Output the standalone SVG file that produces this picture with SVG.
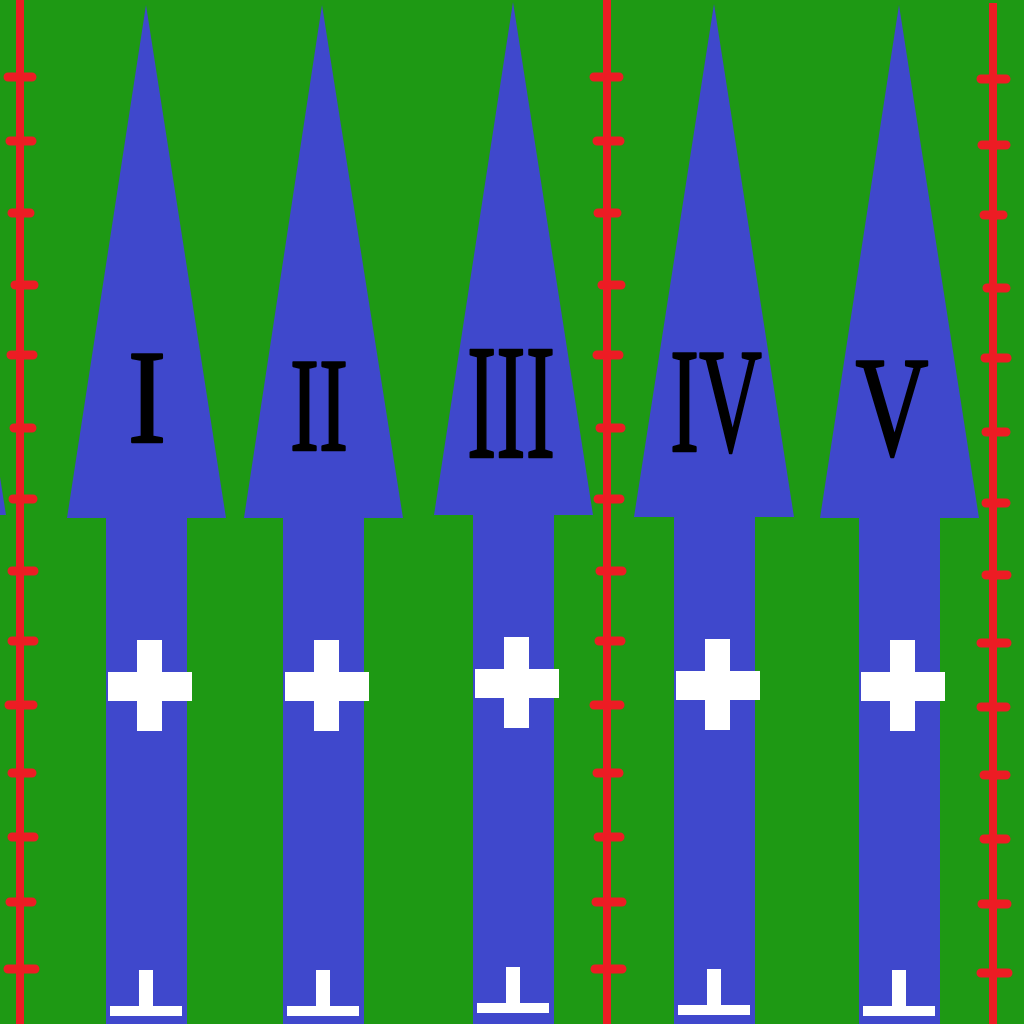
<svg xmlns="http://www.w3.org/2000/svg" width="1024" height="1024" viewBox="0 0 1024 1024">
<style>
.bg{fill:#1E9914}
.blue{fill:#3F48CC}
.white{fill:#FFFFFF}
.rail{fill:#ED1C24}
.tick{stroke:#ED1C24;stroke-width:9;stroke-linecap:round;fill:none}
.num{font-family:"Liberation Serif","Times New Roman",serif;fill:#000000;stroke:#000000;stroke-width:2.5;stroke-linejoin:round;text-anchor:middle}
</style>
<rect class="bg" x="0" y="0" width="1024" height="1024"/>
<polygon class="blue" points="0,477 6,515 0,515"/>

<g id="arrow1">
<polygon class="blue" points="146,5 226,518 187,518 187,1024 106,1024 106,518 67,518"/>
<rect class="white" x="137" y="640" width="25" height="91"/>
<rect class="white" x="108" y="672" width="84" height="29"/>
<rect class="white" x="139" y="970" width="14" height="40"/>
<rect class="white" x="110" y="1006" width="72" height="10"/>
<text class="num" x="147" y="442" font-size="134" textLength="38" lengthAdjust="spacingAndGlyphs">I</text>
</g>

<g id="arrow2">
<polygon class="blue" points="322,5 403,518 364,518 364,1024 283,1024 283,518 244,518"/>
<rect class="white" x="314" y="640" width="25" height="91"/>
<rect class="white" x="285" y="672" width="84" height="29"/>
<rect class="white" x="316" y="970" width="14" height="40"/>
<rect class="white" x="287" y="1006" width="72" height="10"/>
<text class="num" x="319" y="450" font-size="134" textLength="58" lengthAdjust="spacingAndGlyphs">II</text>
</g>

<g id="arrow3">
<polygon class="blue" points="513,2 593,515 554,515 554,1024 473,1024 473,515 434,515"/>
<rect class="white" x="504" y="637" width="25" height="91"/>
<rect class="white" x="475" y="669" width="84" height="29"/>
<rect class="white" x="506" y="967" width="14" height="40"/>
<rect class="white" x="477" y="1003" width="72" height="10"/>
<text class="num" x="511" y="457" font-size="164" textLength="88" lengthAdjust="spacingAndGlyphs">III</text>
</g>

<g id="arrow4">
<polygon class="blue" points="714,4 794,517 755,517 755,1024 674,1024 674,517 634,517"/>
<rect class="white" x="705" y="639" width="25" height="91"/>
<rect class="white" x="676" y="671" width="84" height="29"/>
<rect class="white" x="707" y="969" width="14" height="40"/>
<rect class="white" x="678" y="1005" width="72" height="10"/>
<text class="num" x="716" y="451" font-size="148" textLength="92" lengthAdjust="spacingAndGlyphs">IV</text>
</g>

<g id="arrow5">
<polygon class="blue" points="899,5 979,518 940,518 940,1024 859,1024 859,518 820,518"/>
<rect class="white" x="890" y="640" width="25" height="91"/>
<rect class="white" x="861" y="672" width="84" height="29"/>
<rect class="white" x="892" y="970" width="14" height="40"/>
<rect class="white" x="863" y="1006" width="72" height="10"/>
<text class="num" x="892" y="455" font-size="142" textLength="73" lengthAdjust="spacingAndGlyphs">V</text>
</g>

<g id="rail-left">
<rect class="rail" x="16" y="0" width="8" height="1024"/>
<path class="tick" d="M8,77H32M10,141H32M12,213H30M15,285H34M11,355H33M14,428H32M13,499H33M12,571H34M12,641H34M9,705H33M12,773H32M12,837H34M10,902H32M8,969H35"/>
</g>
<g id="rail-middle">
<rect class="rail" x="603" y="0" width="8" height="1024"/>
<path class="tick" d="M594,77H619M597,141H620M598,213H617M602,285H621M597,355H619M600,428H621M598,499H620M600,571H622M599,641H621M594,705H620M597,773H619M598,837H620M596,902H622M595,969H622"/>
</g>
<g id="rail-right">
<rect class="rail" x="989" y="3" width="8" height="1021"/>
<path class="tick" d="M981,79H1006M982,145H1006M984,215H1003M987,288H1006M985,358H1007M986,432H1006M986,503H1006M986,575H1007M981,643H1007M981,707H1006M984,775H1006M984,839H1006M982,904H1007M981,973H1008"/>
</g>
</svg>
